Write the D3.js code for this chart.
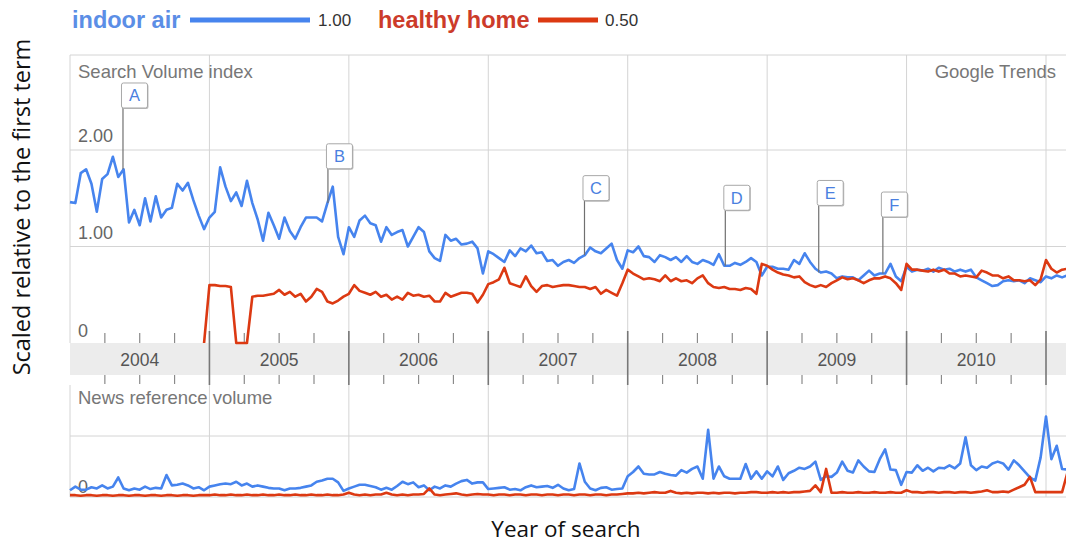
<!DOCTYPE html>
<html><head><meta charset="utf-8">
<script src="https://cdn.jsdelivr.net/npm/d3@7"></script>
<style>
html,body{margin:0;padding:0;background:#fff;}
svg{display:block;}
</style></head>
<body>
<svg id="chart" width="1066" height="546"></svg>
<script>
// ---------------- DATA ----------------
// Values every two weeks (26 per year) starting at the beginning of 2004
const startYear = 2004;
const stepsPerYear = 26;
const years = [2004, 2005, 2006, 2007, 2008, 2009, 2010];
const searchTickValues = [0, 1, 2];
const searchTickLabels = ["0", "1.00", "2.00"];
const seriesNames = ["indoor air", "healthy home"];
const seriesScale = ["1.00", "0.50"];

const searchIndoorAir = [
1.46,1.45,1.76,1.80,1.65,1.36,1.70,1.75,1.93,1.72,1.80,1.25,1.38,1.22,1.50,1.26,1.52,1.30,1.38,1.40,1.65,1.58,1.66,1.48,1.32,1.18,
1.30,1.36,1.82,1.62,1.47,1.56,1.42,1.68,1.45,1.28,1.06,1.35,1.22,1.08,1.30,1.16,1.08,1.20,1.30,1.30,1.30,1.26,1.45,1.62,1.10,0.92,
1.20,1.10,1.27,1.32,1.24,1.22,1.05,1.20,1.12,1.15,1.17,1.00,1.10,1.20,1.15,0.95,0.88,0.85,1.12,1.06,1.08,1.02,1.03,1.05,0.98,0.72,
0.95,0.92,0.88,0.84,0.96,0.90,0.98,0.95,1.01,0.93,0.94,0.85,0.86,0.80,0.84,0.86,0.83,0.88,0.91,0.99,0.95,0.93,0.98,1.03,0.86,0.77,
0.96,0.94,1.00,0.90,0.89,0.84,0.91,0.89,0.86,0.89,0.84,0.90,0.84,0.82,0.86,0.84,0.81,0.92,0.80,0.80,0.83,0.81,0.84,0.88,0.84,0.70,
0.79,0.79,0.77,0.77,0.76,0.86,0.82,0.93,0.84,0.77,0.73,0.74,0.72,0.67,0.69,0.68,0.68,0.65,0.70,0.75,0.70,0.72,0.72,0.82,0.69,0.64,
0.79,0.74,0.76,0.75,0.77,0.74,0.78,0.76,0.77,0.74,0.76,0.74,0.76,0.68,0.65,0.62,0.59,0.60,0.64,0.65,0.64,0.65,0.62,0.67,0.65,0.63,
0.69,0.67,0.70,0.68,0.70
];
const searchHealthyHome = [
null,null,null,null,null,null,null,null,null,null,null,null,null,null,null,null,null,null,null,null,null,null,null,null,null,0,
0.60,0.60,0.59,0.59,0.58,0.00,0.00,0.00,0.48,0.49,0.49,0.50,0.51,0.55,0.50,0.53,0.48,0.51,0.43,0.48,0.56,0.53,0.43,0.41,0.44,0.48,
0.51,0.60,0.54,0.52,0.50,0.53,0.48,0.50,0.45,0.48,0.45,0.52,0.49,0.50,0.48,0.49,0.43,0.43,0.52,0.48,0.50,0.52,0.52,0.51,0.42,0.50,
0.61,0.63,0.66,0.78,0.62,0.60,0.58,0.69,0.59,0.53,0.59,0.60,0.58,0.59,0.60,0.60,0.59,0.58,0.58,0.56,0.58,0.51,0.55,0.52,0.49,0.62,
0.76,0.72,0.69,0.66,0.67,0.66,0.64,0.70,0.64,0.67,0.64,0.65,0.62,0.67,0.70,0.62,0.58,0.57,0.58,0.56,0.56,0.55,0.57,0.56,0.51,0.82,
0.80,0.76,0.73,0.71,0.70,0.68,0.69,0.63,0.60,0.58,0.60,0.58,0.62,0.65,0.68,0.66,0.67,0.65,0.62,0.65,0.67,0.67,0.69,0.67,0.62,0.55,
0.82,0.76,0.76,0.75,0.74,0.76,0.74,0.76,0.72,0.72,0.69,0.70,0.69,0.68,0.75,0.73,0.70,0.70,0.67,0.69,0.65,0.65,0.64,0.65,0.60,0.66,
0.86,0.77,0.73,0.76,0.77
];
const newsIndoorAir = [
0.11,0.17,0.12,0.12,0.16,0.14,0.19,0.14,0.17,0.32,0.14,0.11,0.14,0.12,0.17,0.13,0.15,0.14,0.36,0.19,0.20,0.22,0.19,0.14,0.16,0.11,
0.17,0.19,0.21,0.22,0.21,0.25,0.19,0.22,0.17,0.19,0.17,0.15,0.14,0.14,0.11,0.14,0.14,0.15,0.17,0.19,0.25,0.27,0.30,0.30,0.24,0.10,
0.14,0.17,0.20,0.20,0.18,0.16,0.12,0.15,0.12,0.18,0.25,0.21,0.24,0.16,0.19,0.11,0.17,0.14,0.19,0.17,0.22,0.26,0.28,0.22,0.24,0.24,
0.13,0.14,0.15,0.16,0.12,0.13,0.11,0.16,0.19,0.16,0.17,0.18,0.15,0.20,0.14,0.11,0.13,0.55,0.25,0.14,0.11,0.15,0.16,0.12,0.13,0.14,
0.34,0.41,0.50,0.38,0.37,0.37,0.41,0.38,0.36,0.35,0.44,0.40,0.46,0.50,0.30,1.10,0.30,0.50,0.34,0.30,0.30,0.30,0.54,0.30,0.42,0.30,
0.42,0.34,0.50,0.28,0.39,0.43,0.48,0.46,0.50,0.58,0.28,0.34,0.33,0.40,0.58,0.43,0.40,0.60,0.50,0.42,0.41,0.62,0.78,0.45,0.44,0.20,
0.41,0.40,0.52,0.43,0.48,0.42,0.48,0.47,0.52,0.47,0.55,0.98,0.52,0.44,0.50,0.48,0.55,0.58,0.55,0.45,0.60,0.52,0.42,0.32,0.27,0.65,
1.32,0.62,0.84,0.46,0.45
];
const newsHealthyHome = [
0.03,0.03,0.02,0.03,0.03,0.02,0.03,0.03,0.02,0.03,0.03,0.02,0.03,0.03,0.02,0.03,0.03,0.02,0.03,0.03,0.02,0.03,0.03,0.02,0.03,0.03,
0.03,0.04,0.03,0.03,0.04,0.03,0.03,0.04,0.03,0.03,0.04,0.03,0.03,0.04,0.03,0.03,0.04,0.03,0.03,0.04,0.03,0.03,0.04,0.03,0.03,0.04,
0.07,0.04,0.03,0.04,0.03,0.04,0.04,0.07,0.04,0.03,0.04,0.03,0.04,0.04,0.05,0.14,0.04,0.03,0.04,0.05,0.06,0.04,0.03,0.04,0.05,0.04,
0.04,0.03,0.04,0.04,0.03,0.04,0.04,0.03,0.04,0.04,0.03,0.04,0.04,0.03,0.04,0.04,0.03,0.04,0.04,0.03,0.04,0.04,0.03,0.04,0.04,0.05,
0.06,0.06,0.07,0.06,0.07,0.08,0.07,0.07,0.10,0.07,0.06,0.07,0.06,0.07,0.07,0.06,0.07,0.06,0.07,0.07,0.06,0.07,0.07,0.08,0.08,0.07,
0.07,0.08,0.07,0.08,0.07,0.08,0.08,0.09,0.10,0.19,0.08,0.46,0.07,0.07,0.08,0.07,0.07,0.08,0.07,0.07,0.08,0.07,0.07,0.08,0.07,0.07,
0.11,0.08,0.08,0.07,0.08,0.08,0.07,0.08,0.08,0.07,0.08,0.08,0.07,0.08,0.09,0.11,0.08,0.08,0.09,0.08,0.12,0.16,0.20,0.33,0.08,0.08,
0.08,0.08,0.08,0.08,0.40
];
// Annotation flags: letter, date (fractional year), flag level (search index units)
const flagLetters = ["A", "B", "C", "D", "E", "F"];
const flagDates = [2004.38, 2005.85, 2007.69, 2008.70, 2009.37, 2009.83];
const flagLevels = [2.57, 1.94, 1.61, 1.51, 1.56, 1.44];

// ---------------- LAYOUT ----------------
const W = 1066, H = 546;
const left = 70, right = 1090;
const searchTop = 55, searchBottom = 343;
const bandTop = 343, bandBottom = 375;
const newsTop = 385, newsBottom = 497;
const blue = "#4684ee", red = "#dc3912";
const labelFont = "'Liberation Sans', Arial, sans-serif";

const svg = d3.select("#chart");
const x = d3.scaleLinear().domain([2004, 2011]).range([left, 1046]);
const ySearch = d3.scaleLinear().domain([0, 2]).range([searchBottom, 150]);
const yNews = d3.scaleLinear().domain([0, 1]).range([newsBottom, 436]);
const t = i => startYear + i / stepsPerYear;

const gridColor = "#d4d4d4";
const grid = svg.append("g");
// search panel borders/grid
grid.append("line").attr("x1", left).attr("x2", right).attr("y1", searchTop).attr("y2", searchTop).attr("stroke", gridColor);
grid.append("line").attr("x1", left).attr("x2", left).attr("y1", searchTop).attr("y2", searchBottom).attr("stroke", gridColor);
grid.selectAll(".hs").data(searchTickValues.filter(v => v > 0)).enter().append("line")
  .attr("x1", left).attr("x2", right).attr("y1", d => ySearch(d)).attr("y2", d => ySearch(d)).attr("stroke", gridColor);
const boundaries = years.slice(1).concat([2011]);
grid.selectAll(".vs").data(boundaries).enter().append("line")
  .attr("x1", d => x(d)).attr("x2", d => x(d)).attr("y1", searchTop).attr("y2", searchBottom).attr("stroke", gridColor);
// news panel grid
grid.append("line").attr("x1", left).attr("x2", left).attr("y1", newsTop).attr("y2", newsBottom).attr("stroke", gridColor);
grid.append("line").attr("x1", left).attr("x2", right).attr("y1", yNews(1)).attr("y2", yNews(1)).attr("stroke", gridColor);
grid.append("line").attr("x1", left).attr("x2", right).attr("y1", newsBottom).attr("y2", newsBottom).attr("stroke", gridColor);
grid.selectAll(".vn").data(boundaries).enter().append("line")
  .attr("x1", d => x(d)).attr("x2", d => x(d)).attr("y1", newsTop).attr("y2", newsBottom).attr("stroke", gridColor);

// year band
svg.append("rect").attr("x", left).attr("y", bandTop).attr("width", right - left).attr("height", bandBottom - bandTop).attr("fill", "#ececec");
const quarters = [];
years.concat([2011]).forEach(y => [0.25, 0.5, 0.75].forEach(q => quarters.push(y + q)));
const tickG = svg.append("g").attr("stroke", "#8a8a8a").attr("stroke-width", 1.2);
tickG.selectAll(".q1").data(quarters).enter().append("line")
  .attr("x1", d => x(d)).attr("x2", d => x(d)).attr("y1", searchBottom - 10).attr("y2", searchBottom);
tickG.selectAll(".q2").data(quarters).enter().append("line")
  .attr("x1", d => x(d)).attr("x2", d => x(d)).attr("y1", bandBottom).attr("y2", bandBottom + 9);
tickG.selectAll(".yb").data(boundaries).enter().append("line")
  .attr("x1", d => x(d)).attr("x2", d => x(d)).attr("y1", searchBottom - 12).attr("y2", bandBottom + 10)
  .attr("stroke", "#777").attr("stroke-width", 1.6);
svg.selectAll(".yl").data(years).enter().append("text")
  .attr("x", d => x(d + 0.5)).attr("y", 366).attr("text-anchor", "middle")
  .attr("font-family", labelFont).attr("font-size", 17.5).attr("fill", "#555").text(d => d);

// panel labels
const lab = (txt, xx, yy, anchor) => svg.append("text").attr("x", xx).attr("y", yy)
  .attr("text-anchor", anchor || "start").attr("font-family", labelFont).attr("font-size", 18.5)
  .attr("fill", "#777").text(txt);
lab("Search Volume index", 78, 78);
lab("Google Trends", 1056, 78, "end");
lab("News reference volume", 78, 404);
svg.selectAll(".yt").data(searchTickValues).enter().append("text")
  .attr("x", 78).attr("y", d => ySearch(d) - (d === 0 ? 6 : 8))
  .attr("font-family", labelFont).attr("font-size", 18).attr("fill", "#666")
  .text((d, i) => searchTickLabels[i]);
svg.append("text").attr("x", 78).attr("y", newsBottom - 4).attr("font-family", labelFont)
  .attr("font-size", 18).attr("fill", "#666").text("0");

// lines
const lineS = d3.line().defined(d => d != null).x((d, i) => x(t(i))).y(d => ySearch(d)).curve(d3.curveLinear);
const lineN = d3.line().defined(d => d != null).x((d, i) => x(t(i))).y(d => yNews(d));
const lg = svg.append("g").attr("fill", "none").attr("stroke-width", 2.6).attr("stroke-linejoin", "round");
lg.append("path").attr("d", lineS(searchIndoorAir)).attr("stroke", blue);
lg.append("path").attr("d", lineS(searchHealthyHome)).attr("stroke", red);
lg.append("path").attr("d", lineN(newsIndoorAir)).attr("stroke", blue);
lg.append("path").attr("d", lineN(newsHealthyHome)).attr("stroke", red);

// flags
const flags = flagLetters.map((l, i) => ({ l, d: flagDates[i], lv: flagLevels[i],
  v: searchIndoorAir[Math.round((flagDates[i] - startYear) * stepsPerYear)] }));
const fg = svg.append("g");
fg.selectAll(".fl").data(flags).enter().append("line")
  .attr("x1", d => x(d.d)).attr("x2", d => x(d.d))
  .attr("y1", d => ySearch(d.lv) + 12).attr("y2", d => ySearch(d.v))
  .attr("stroke", "#707070").attr("stroke-width", 1.2);
const box = fg.selectAll(".fb").data(flags).enter().append("g")
  .attr("transform", d => `translate(${x(d.d) - 1.5},${ySearch(d.lv) - 12})`);
box.append("rect").attr("x", 1).attr("y", 1).attr("width", 26).attr("height", 25).attr("rx", 2).attr("fill", "#bbb");
box.append("rect").attr("width", 26).attr("height", 25).attr("rx", 2).attr("fill", "#fff").attr("stroke", "#a8a8a8");
box.append("text").attr("x", 13).attr("y", 18.5).attr("text-anchor", "middle").attr("font-family", labelFont)
  .attr("font-size", 16.5).attr("fill", "#4a7fe0").text(d => d.l);

// legend
const leg = svg.append("g").attr("font-family", labelFont);
leg.append("text").attr("x", 72).attr("y", 28).attr("font-size", 23.5).attr("font-weight", "bold").attr("fill", "#5b8ee6").text(seriesNames[0]);
leg.append("line").attr("x1", 190).attr("x2", 310).attr("y1", 20).attr("y2", 20).attr("stroke", blue).attr("stroke-width", 5);
leg.append("text").attr("x", 318).attr("y", 26).attr("font-size", 17).attr("fill", "#333").text(seriesScale[0]);
leg.append("text").attr("x", 378).attr("y", 28).attr("font-size", 23.5).attr("font-weight", "bold").attr("fill", "#cc3b2a").text(seriesNames[1]);
leg.append("line").attr("x1", 538).attr("x2", 598).attr("y1", 20).attr("y2", 20).attr("stroke", red).attr("stroke-width", 5);
leg.append("text").attr("x", 605).attr("y", 26).attr("font-size", 17).attr("fill", "#333").text(seriesScale[1]);

// axis titles
svg.append("text").attr("transform", "translate(30,207) rotate(-90)").attr("text-anchor", "middle")
  .attr("font-family", "'Open Sans', sans-serif").attr("font-size", 23.5).attr("fill", "#111")
  .text("Scaled relative to the first term");
svg.append("text").attr("x", 566).attr("y", 537).attr("text-anchor", "middle")
  .attr("font-family", "'Open Sans', sans-serif").attr("font-size", 22.5).attr("fill", "#111")
  .text("Year of search");
</script>
</body></html>
